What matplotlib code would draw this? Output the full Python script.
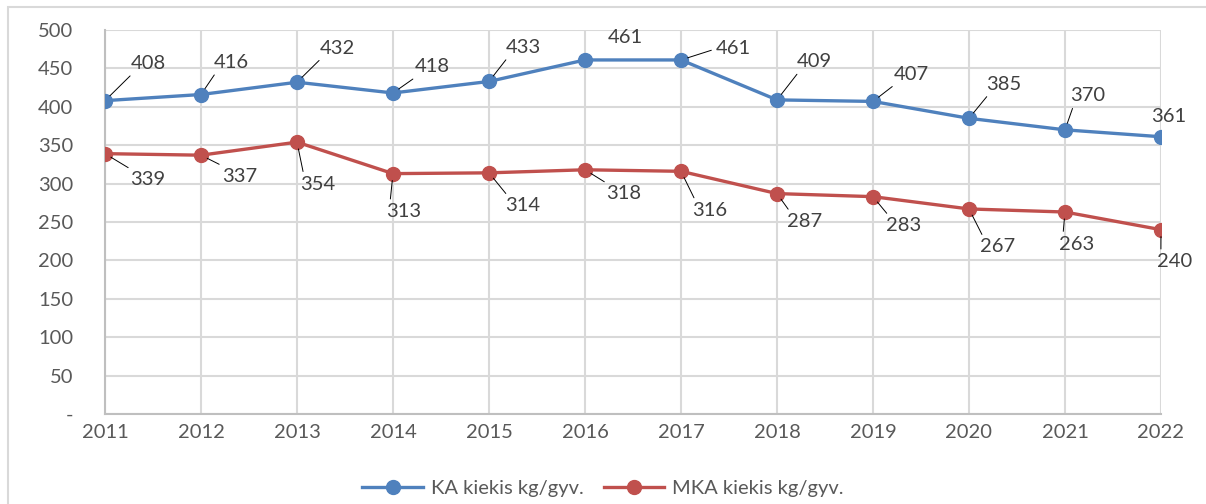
import matplotlib
matplotlib.use("Agg")
import matplotlib.pyplot as plt
from matplotlib.patches import Rectangle

plt.rcParams["font.family"] = ["Lato", "DejaVu Sans"]

years = [2011, 2012, 2013, 2014, 2015, 2016, 2017, 2018, 2019, 2020, 2021, 2022]
ka = [408, 416, 432, 418, 433, 461, 461, 409, 407, 385, 370, 361]
mka = [339, 337, 354, 313, 314, 318, 316, 287, 283, 267, 263, 240]
ka_name = "KA kiekis kg/gyv."
mka_name = "MKA kiekis kg/gyv."
y_ticks = [0, 50, 100, 150, 200, 250, 300, 350, 400, 450, 500]
y_ticklabels = ["-", "50", "100", "150", "200", "250", "300", "350", "400", "450", "500"]

# label offsets in pixels (dx, dy up) and whether a leader line is drawn
ka_off = [(43, 37), (30, 32), (40, 34), (39, 26), (34, 34), (40, 22),
          (52, 11), (37, 38), (38, 27), (35, 34), (23, 34), (8, 20)]
ka_lead = [1, 1, 1, 1, 1, 0, 1, 1, 1, 1, 1, 0]
mka_off = [(43, -26), (39, -21), (21, -42), (11, -38), (34, -33), (39, -24),
           (29, -39), (28, -28), (31, -29), (29, -38), (12, -32), (14, -32)]
mka_lead = [1] * 12

BLUE = "#4F81BD"
RED = "#C0504D"
GRID = "#D9D9D9"

fig = plt.figure(figsize=(12.06, 5.04), dpi=100)
ax = fig.add_axes([105 / 1206, 1 - 414 / 504, (1161 - 105) / 1206, (414 - 30) / 504])

# outer chart border
fig.patches.append(Rectangle((8 / 1206, -0.1), 1.2, 1 - 7 / 504 + 0.1, transform=fig.transFigure,
                             fill=False, edgecolor="#D9D9D9", lw=1.5))

ax.plot(years, ka, color=BLUE, lw=2.4, marker="o", ms=10, label=ka_name, zorder=3)
ax.plot(years, mka, color=RED, lw=2.4, marker="o", ms=10, label=mka_name, zorder=3)

for vals, offs, leads in [(ka, ka_off, ka_lead), (mka, mka_off, mka_lead)]:
    for x, v, (dx, dy), ld in zip(years, vals, offs, leads):
        ap = None
        if ld:
            rp = (0, 0.5) if abs(dy) < 15 else ((0.1, 0) if dy > 0 else (0.1, 1))
            ap = dict(arrowstyle="-", color="black", lw=0.7, shrinkA=1, shrinkB=5, relpos=rp)
        ax.annotate(str(v), (x, v), xytext=(dx, dy), textcoords="offset pixels",
                    ha="center", va="center", fontsize=14.5, color="#404040",
                    arrowprops=ap, zorder=4)

ax.set_xlim(2011, 2022)
ax.set_ylim(0, 500)
ax.set_xticks(years)
ax.set_yticks(y_ticks)
ax.set_yticklabels(y_ticklabels)
ax.tick_params(axis="both", length=0, labelsize=14.5, labelcolor="#595959")
ax.tick_params(axis="y", pad=23)
ax.tick_params(axis="x", pad=7)
ax.grid(True, color=GRID, lw=1.5)
ax.set_axisbelow(True)
for s in ["top", "right"]:
    ax.spines[s].set_visible(False)
for s in ["left", "bottom"]:
    ax.spines[s].set_color("#BFBFBF")
    ax.spines[s].set_linewidth(1.5)

fig.legend(loc="center", bbox_to_anchor=(0.5, 1 - 488 / 504), ncol=2, frameon=False,
           fontsize=14.5, labelcolor="#595959", handlelength=3, columnspacing=1.0,
           handletextpad=0.4)

fig.savefig("out.png", dpi=100)
